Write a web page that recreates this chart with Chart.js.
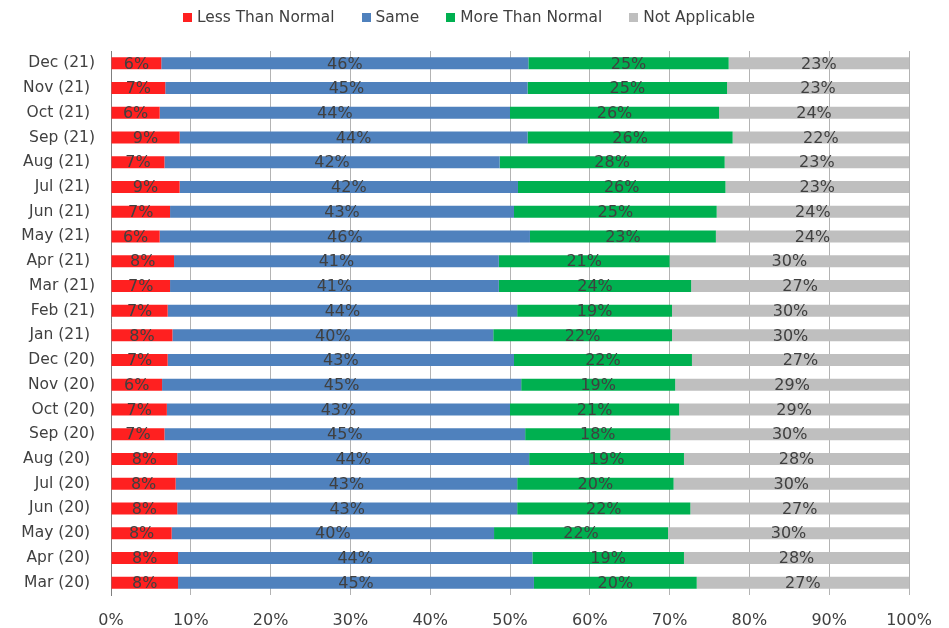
<!DOCTYPE html>
<html>
<head>
<meta charset="utf-8">
<title>Monthly responses</title>
<script src="https://cdn.jsdelivr.net/npm/chart.js@4/dist/chart.umd.min.js"></script>
<style>
  html, body { margin: 0; padding: 0; background: #ffffff; }
  #wrap { width: 949px; height: 628px; }
</style>
</head>
<body>
<div id="wrap"><canvas id="chart" width="949" height="628"></canvas></div>
<script>
// Months, oldest first (drawn bottom to top)
const months = [
  'Mar (20) ', 'Apr (20) ', 'May (20) ', 'Jun (20) ', 'Jul (20) ', 'Aug (20) ',
  'Sep (20)', 'Oct (20)', 'Nov (20)', 'Dec (20)', 'Jan (21) ', 'Feb (21)',
  'Mar (21)', 'Apr (21) ', 'May (21) ', 'Jun (21) ', 'Jul (21) ', 'Aug (21) ',
  'Sep (21)', 'Oct (21) ', 'Nov (21) ', 'Dec (21)'
];

// Share of responses per month, in percent
const lessThanNormal = [8.4, 8.4, 7.6, 8.3, 8.1, 8.3, 6.7, 7.0, 6.4, 7.1, 7.7, 7.1,
                        7.4, 7.9, 6.1, 7.4, 8.6, 6.7, 8.6, 6.1, 6.8, 6.3];
const same           = [44.6, 44.4, 40.4, 42.6, 42.8, 44.1, 45.2, 43.0, 45.0, 43.4, 40.2, 43.8,
                        41.2, 40.7, 46.4, 43.1, 42.4, 42.0, 43.6, 43.9, 45.4, 46.0];
const moreThanNormal = [20.4, 19.0, 21.8, 21.7, 19.6, 19.4, 18.2, 21.2, 19.3, 22.3, 22.4, 19.4,
                        24.1, 21.4, 23.3, 25.4, 26.0, 28.2, 25.7, 26.2, 25.0, 25.1];
const notApplicable  = [26.6, 28.2, 30.2, 27.4, 29.5, 28.2, 29.9, 28.8, 29.3, 27.2, 29.7, 29.7,
                        27.3, 30.0, 24.2, 24.1, 23.0, 23.1, 22.1, 23.8, 22.8, 22.6];

const seriesNames  = ['Less Than Normal', 'Same', 'More Than Normal', 'Not Applicable'];
const seriesColors = ['#FF2020', '#4F81BD', '#00B050', '#BFBFBF'];

const FONT = 'DejaVu Sans';
const TEXT = '#404040';

// Percentage text centred on every bar segment
const segmentLabels = {
  id: 'segmentLabels',
  afterDatasetsDraw(chart) {
    const ctx = chart.ctx;
    ctx.save();
    ctx.font = '16px "' + FONT + '"';
    ctx.fillStyle = TEXT;
    ctx.textAlign = 'center';
    ctx.textBaseline = 'middle';
    chart.data.datasets.forEach((ds, di) => {
      const meta = chart.getDatasetMeta(di);
      meta.data.forEach((bar, i) => {
        const c = bar.getCenterPoint();
        ctx.fillText(Math.round(ds.data[i]) + '%', c.x, c.y + 1);
      });
    });
    ctx.restore();
  }
};

// Legend row above the plot: square swatch followed by the series name
const topLegend = {
  id: 'topLegend',
  afterDraw(chart) {
    const ctx = chart.ctx;
    const box = 9, gapText = 5, gapItem = 27, cy = 17;
    ctx.save();
    ctx.font = '15.4px "' + FONT + '"';
    ctx.textBaseline = 'middle';
    ctx.textAlign = 'left';
    const items = chart.data.datasets.map(ds => ({
      text: ds.label, color: ds.backgroundColor, w: ctx.measureText(ds.label).width
    }));
    let total = 0;
    items.forEach((it, k) => { total += box + gapText + it.w + (k ? gapItem : 0); });
    let x = 469 - total / 2;
    items.forEach(it => {
      ctx.fillStyle = it.color;
      ctx.fillRect(Math.round(x), cy - 4, box, box);
      ctx.fillStyle = TEXT;
      ctx.fillText(it.text, x + box + gapText, cy + 0.5);
      x += box + gapText + it.w + gapItem;
    });
    ctx.restore();
  }
};

const values = [lessThanNormal, same, moreThanNormal, notApplicable];

new Chart(document.getElementById('chart'), {
  type: 'bar',
  data: {
    labels: months,
    datasets: values.map((v, k) => ({
      label: seriesNames[k],
      data: v,
      backgroundColor: seriesColors[k],
      borderWidth: 0,
      categoryPercentage: 1,
      barPercentage: 0.485
    }))
  },
  options: {
    indexAxis: 'y',
    responsive: false,
    animation: false,
    devicePixelRatio: 1,
    layout: { padding: { top: 51, right: 40, bottom: 0, left: 0 } },
    plugins: {
      legend: { display: false },
      tooltip: { enabled: false }
    },
    scales: {
      x: {
        stacked: true,
        min: 0,
        max: 100,
        border: { display: false },
        grid: { color: '#B3B3B3', lineWidth: 1, drawTicks: false },
        ticks: {
          stepSize: 10,
          padding: 16,
          color: TEXT,
          font: { family: FONT, size: 16 },
          callback: v => v + '%'
        },
        afterFit(scale) { scale.height = 33; }
      },
      y: {
        stacked: true,
        reverse: true,
        grid: { display: false },
        border: { display: true, color: '#7F7F7F', width: 1 },
        ticks: {
          padding: 8,
          color: TEXT,
          font: { family: FONT, size: 15.5 }
        },
        afterFit(scale) { scale.width = 111; }
      }
    }
  },
  plugins: [segmentLabels, topLegend]
});
</script>
</body>
</html>
